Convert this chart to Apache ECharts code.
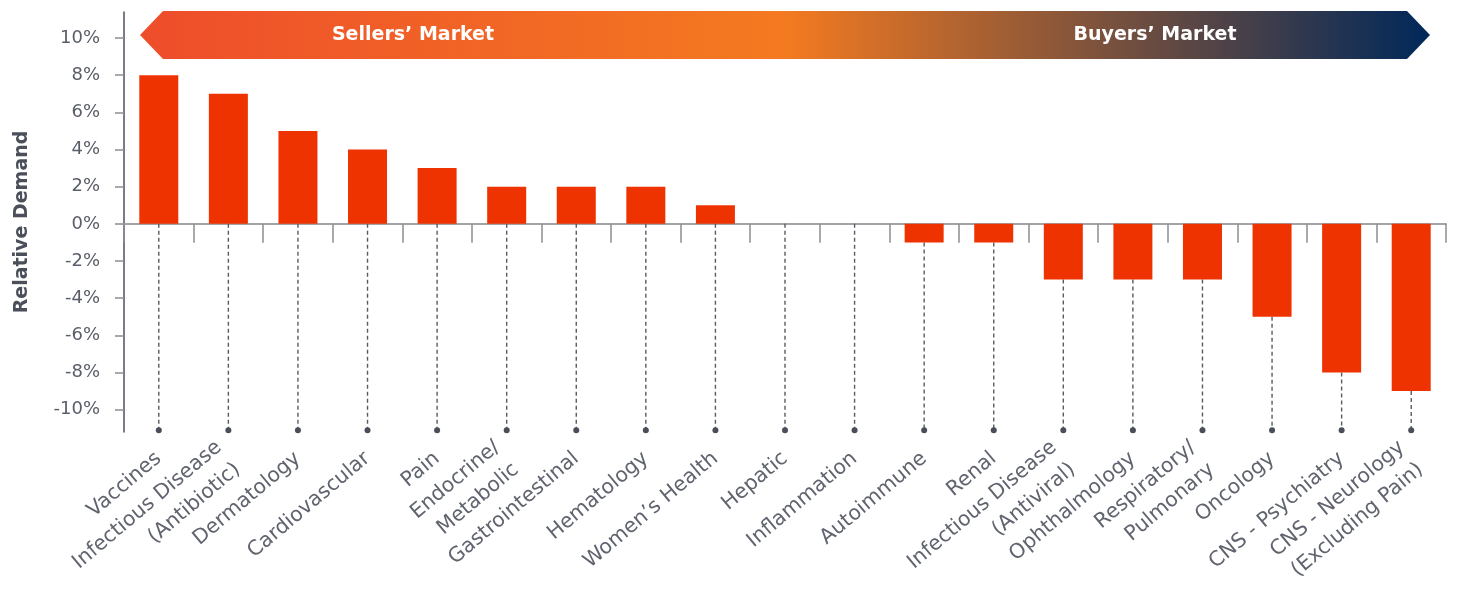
<!DOCTYPE html>
<html>
<head>
<meta charset="utf-8">
<script src="https://cdn.jsdelivr.net/npm/echarts@6/dist/echarts.min.js"></script>
<style>html,body{margin:0;padding:0;background:#fff;}#c{width:1460px;height:590px;}</style>
</head>
<body>
<div id="c"></div>
<script>
var categories = ['Vaccines','Infectious Disease\n(Antibiotic)','Dermatology','Cardiovascular','Pain','Endocrine/\nMetabolic','Gastrointestinal','Hematology','Women’s Health','Hepatic','Inflammation','Autoimmune','Renal','Infectious Disease\n(Antiviral)','Ophthalmology','Respiratory/\nPulmonary','Oncology','CNS - Psychiatry','CNS - Neurology\n(Excluding Pain)'];
var demand = [8, 7, 5, 4, 3, 2, 2, 2, 1, 0, 0, -1, -1, -3, -3, -3, -5, -8, -9];
var yTicks = [-10, -8, -6, -4, -2, 0, 2, 4, 6, 8, 10];
var bannerLabels = ['Sellers’ Market', 'Buyers’ Market'];

var FONT = 'DejaVu Sans';
var chart = echarts.init(document.getElementById('c'));
var dotValue = -11.1;

chart.setOption({
  animation: false,
  grid: { left: 124, right: 14, top: 12, bottom: 158, outerBoundsMode: 'none', containLabel: false },
  xAxis: [{
    type: 'category', data: categories, position: 'bottom',
    axisLine: { onZero: true, lineStyle: { color: '#a3a4a8', width: 2 } },
    axisTick: { show: true, interval: 0, length: 19, lineStyle: { color: '#8a8d93', width: 1.5 } },
    axisLabel: { show: false }
  }, {
    type: 'category', data: categories, position: 'bottom',
    axisLine: { show: false, onZero: false },
    axisTick: { show: false },
    axisLabel: {
      show: true, interval: 0, rotate: 40, margin: 24,
      fontFamily: FONT, fontSize: 20.5, color: '#60646e', lineHeight: 29, align: 'right'
    }
  }],
  yAxis: {
    type: 'value', min: -11.2, max: 11.4,
    name: 'Relative Demand', nameLocation: 'middle', nameGap: 92, nameRotate: 90,
    nameTextStyle: { fontFamily: FONT, fontSize: 19, fontWeight: 'bold', color: '#4a4f5a' },
    axisLine: { show: true, lineStyle: { color: '#4d525c', width: 1.5 } },
    axisTick: { show: true, length: 9, customValues: yTicks, lineStyle: { color: '#8a8d93', width: 1.5 } },
    axisLabel: {
      customValues: yTicks, margin: 24,
      fontFamily: FONT, fontSize: 18, color: '#5a5e68',
      formatter: function (v) { return v + '%'; }
    },
    splitLine: { show: false }
  },
  series: [{
    type: 'bar', data: demand, barWidth: 39, xAxisIndex: 0,
    itemStyle: { color: '#EE3300' }, z: 3
  }, {
    type: 'custom', xAxisIndex: 0, z: 2,
    data: demand.map(function (v, i) { return [i, v]; }),
    renderItem: function (params, api) {
      var i = api.value(0), v = api.value(1);
      var top = api.coord([i, Math.min(v, 0)]);
      var bot = api.coord([i, dotValue]);
      return {
        type: 'group', children: [{
          type: 'line',
          shape: { x1: top[0], y1: top[1], x2: bot[0], y2: bot[1] },
          style: { stroke: '#575b65', lineWidth: 1.4, lineDash: [4, 3] }
        }, {
          type: 'circle',
          shape: { cx: bot[0], cy: bot[1], r: 3 },
          style: { fill: '#4a4e58' }
        }]
      };
    }
  }],
  graphic: [{
    type: 'polygon', z: 10,
    shape: { points: [[140, 35], [163, 11], [1407, 11], [1430, 35], [1407, 59], [163, 59]] },
    style: {
      fill: new echarts.graphic.LinearGradient(0, 0, 1, 0, [
        { offset: 0, color: '#EE4D2B' },
        { offset: 0.5, color: '#F47A20' },
        { offset: 1, color: '#00285A' }
      ])
    }
  }, {
    type: 'text', z: 11, x: 413, y: 35,
    style: { text: bannerLabels[0], fill: '#ffffff', font: 'bold 19px "DejaVu Sans"', textAlign: 'center', textVerticalAlign: 'middle' }
  }, {
    type: 'text', z: 11, x: 1155, y: 35,
    style: { text: bannerLabels[1], fill: '#ffffff', font: 'bold 19px "DejaVu Sans"', textAlign: 'center', textVerticalAlign: 'middle' }
  }]
});
</script>
</body>
</html>
